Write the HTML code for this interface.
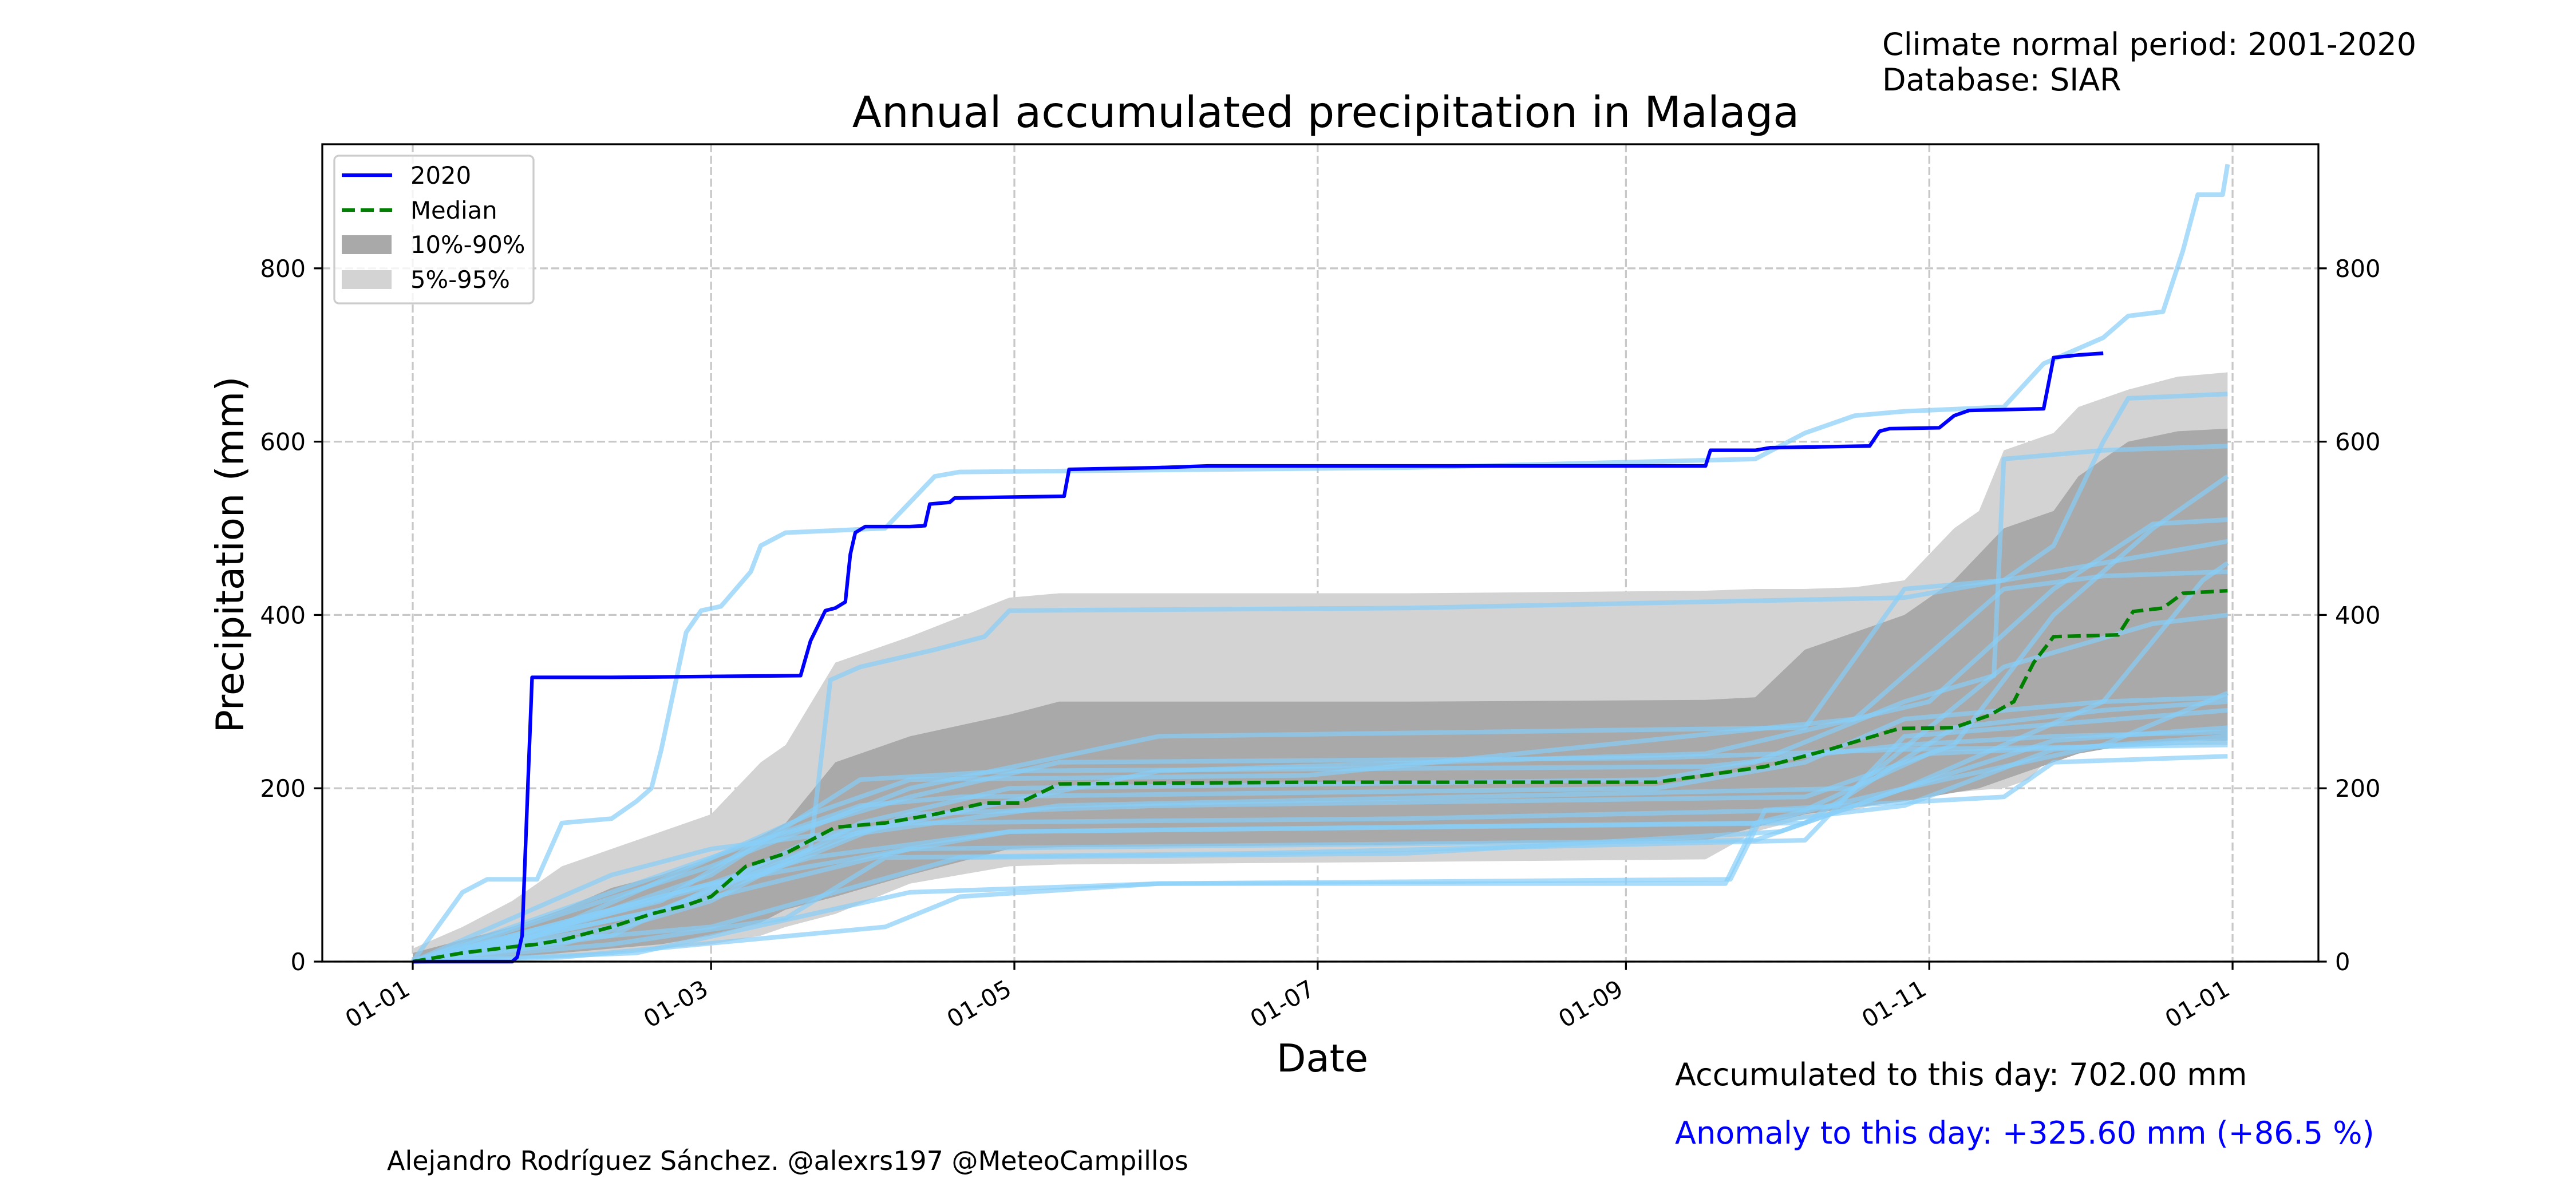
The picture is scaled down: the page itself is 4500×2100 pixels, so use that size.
<!DOCTYPE html>
<html><head><meta charset="utf-8"><style>
html,body{margin:0;padding:0;background:#fff;}
svg{display:block;font-family:"DejaVu Sans","Liberation Sans",sans-serif;}
</style></head><body>
<svg id="chart" width="4500" height="2100" viewBox="0 0 4500 2100" xmlns="http://www.w3.org/2000/svg">
<rect x="0" y="0" width="4500" height="2100" fill="#fff"/>
<text x="3288" y="96" font-size="54">Climate normal period: 2001-2020</text>
<text x="3288" y="158" font-size="54">Database: SIAR</text>
<text x="2316" y="222" font-size="75" text-anchor="middle">Annual accumulated precipitation in Malaga</text>
<text x="0" y="0" font-size="67" text-anchor="middle" transform="translate(425,969) rotate(-90)">Precipitation (mm)</text>
<text x="2310" y="1872" font-size="67" text-anchor="middle">Date</text>
<text x="2926" y="1896" font-size="54">Accumulated to this day: 702.00 mm</text>
<text x="2926" y="1998" font-size="54" fill="#0000ff">Anomaly to this day: +325.60 mm (+86.5 %)</text>
<text x="676" y="2044" font-size="46">Alejandro Rodríguez Sánchez. @alexrs197 @MeteoCampillos</text>
<g id="plot"></g>
</svg>
<script>
// ---- data ----
const xTickLabels = ["01-01","01-03","01-05","01-07","01-09","01-11","01-01"];
const xTickDays = [0,60,121,182,244,305,366];
const yTicks = [0,200,400,600,800];
const year2020Days = [0,20,21,22,23,24,40,78,80,83,85,87,88,89,91,100,103,104,108,109,131,132,150,160,260,261,270,273,293,295,297,307,310,313,328,330,335,340];
const year2020Vals = [0,0,5,30,180,328,328,330,370,405,408,415,470,495,502,502,503,528,530,535,537,568,570,572,572,590,590,593,595,612,615,616,630,636,638,697,700,702];
const medianDays = [0,10,20,25,30,40,48,55,60,67,75,85,95,105,115,122,130,180,250,260,272,285,299,310,317,322,326,330,343,346,352,356,359,365];
const medianVals = [0,10,17,20,25,40,55,65,75,110,125,155,160,170,183,183,205,207,207,215,225,245,269,270,284,300,345,375,377,404,408,425,426,428];
const bandDays = [0,10,20,30,40,50,60,70,75,85,100,120,130,200,260,270,280,290,300,305,310,315,320,325,330,335,345,355,365];
const p95 = [15,40,70,110,130,150,170,230,250,345,375,420,425,425,428,430,430,432,440,470,500,520,590,600,610,640,660,675,680];
const p05 = [0,0,3,5,10,15,20,30,40,55,90,110,112,115,118,150,165,175,190,192,195,198,200,210,240,245,248,250,250];
const p90 = [10,25,40,60,85,100,120,145,160,230,260,285,300,300,302,305,360,380,400,420,440,470,500,510,520,560,600,612,615];
const p10 = [0,0,5,10,15,20,30,45,60,75,100,130,132,135,140,155,170,178,185,190,195,200,210,220,230,240,250,255,255];
const yearsDays = [
 [0,5,10,15,25,30,40,45,48,50,55,58,62,65,68,70,75,95,105,110,200,270,280,290,300,320,328,332,340,345,352,356,359,364,365],
 [0,20,40,60,80,84,90,105,115,120,200,300,320,330,340,345,365],
 [0,30,60,90,120,250,270,300,318,320,340,365],
 [0,40,70,100,150,280,310,330,350,365],
 [0,50,90,150,260,305,330,350,365],
 [0,60,100,150,280,300,320,350,365],
 [0,30,80,120,270,300,340,360,365],
 [0,40,80,130,290,320,350,365],
 [0,50,100,270,300,340,365],
 [0,60,120,280,310,340,365],
 [0,40,75,95,170,280,300,365],
 [0,10,60,110,200,275,300,330,365],
 [0,45,100,150,264,270,300,330,365],
 [0,30,95,110,150,265,272,320,330,365],
 [0,20,60,90,120,260,300,330,365],
 [0,50,70,100,130,250,300,365],
 [0,60,90,110,250,280,300,340,365],
 [0,40,60,100,200,280,305,365],
 [0,25,80,100,180,290,320,340,365]
];
const yearsVals = [
 [0,40,80,95,95,160,165,185,200,245,380,405,410,430,450,480,495,500,560,565,570,580,610,630,635,640,690,700,720,745,750,820,885,885,920],
 [0,30,60,90,130,325,340,360,375,405,408,420,440,480,600,650,655],
 [0,20,70,160,200,210,230,300,330,580,590,595],
 [0,40,100,170,180,190,250,400,500,560],
 [0,60,150,220,240,300,430,505,510],
 [0,110,200,260,270,430,440,470,485],
 [0,40,120,150,160,200,300,440,460],
 [0,30,140,180,200,340,390,400],
 [0,60,130,140,200,250,310],
 [0,90,150,160,270,290,300],
 [0,20,50,120,125,140,260,290],
 [0,15,40,120,125,150,200,255,270],
 [0,10,80,90,90,160,180,245,260],
 [0,5,40,75,90,95,175,190,230,237],
 [0,20,100,210,220,225,250,260,265],
 [0,70,140,190,230,235,245,250],
 [0,120,180,190,200,230,280,300,305],
 [0,100,130,160,165,175,240,255],
 [0,30,170,210,215,280,430,445,450]
];
// ---- geometry ----
const L=563,R=4050,T=252,B=1680,X0=721,PXD=8.686,PXMM=1.514;
const xs=d=>X0+d*PXD, ys=v=>B-v*PXMM;
const NS="http://www.w3.org/2000/svg";
const plot=document.getElementById('plot');
function mk(tag,attrs,parent){const e=document.createElementNS(NS,tag);for(const k in attrs)e.setAttribute(k,attrs[k]);(parent||plot).appendChild(e);return e;}
function pts(days,vals){return days.map((d,i)=>xs(d).toFixed(1)+","+ys(vals[i]).toFixed(1)).join(" ");}
function band(days,up,lo){return "M"+days.map((d,i)=>xs(d)+","+ys(up[i])).join("L")+"L"+days.slice().reverse().map((d,i)=>xs(d)+","+ys(lo[lo.length-1-i])).join("L")+"Z";}
// grid
xTickDays.forEach((d,i)=>{const g=mk('line',{x1:xs(d),x2:xs(d),y1:T,y2:B,stroke:'#b0b0b0','stroke-opacity':0.7,'stroke-width':3.3,'stroke-dasharray':'14,6'});

});
yTicks.forEach(v=>{const g=mk('line',{x1:L,x2:R,y1:ys(v),y2:ys(v),stroke:'#b0b0b0','stroke-opacity':0.7,'stroke-width':3.3,'stroke-dasharray':'14,6'});

});
// bands
const b1=mk('path',{d:band(bandDays,p95,p05),fill:'#d3d3d3'});


const b2=mk('path',{d:band(bandDays,p90,p10),fill:'#a9a9a9'});


// years
yearsDays.forEach((days,i)=>{const p=mk('polyline',{points:pts(days,yearsVals[i]),fill:'none',stroke:'#87cefa','stroke-opacity':0.7,'stroke-width':8,'stroke-linejoin':'round'});

});
// median
const med=mk('polyline',{points:pts(medianDays,medianVals),fill:'none',stroke:'#008000','stroke-width':6.3,'stroke-dasharray':'23,10'});


// 2020
const y20=mk('polyline',{points:pts(year2020Days,year2020Vals),fill:'none',stroke:'#0000ff','stroke-width':6.3,'stroke-linejoin':'round'});


// axes frame
const fr=mk('rect',{x:L,y:T,width:R-L,height:B-T,fill:'none',stroke:'#000','stroke-width':3.3});


// x ticks
xTickDays.forEach((d,i)=>{const t=mk('line',{x1:xs(d),x2:xs(d),y1:B,y2:B+14.6,stroke:'#000','stroke-width':3.3});


const lb=mk('text',{x:0,y:0,'font-size':41.7,'text-anchor':'end',transform:`translate(${xs(d)-2},${B+56}) rotate(-30)`});
lb.textContent=xTickLabels[i];

});
// y ticks
yTicks.forEach(v=>{
const t1=mk('line',{x1:L-14.6,x2:L,y1:ys(v),y2:ys(v),stroke:'#000','stroke-width':3.3});


const t2=mk('line',{x1:R,x2:R+14.6,y1:ys(v),y2:ys(v),stroke:'#000','stroke-width':3.3});


const l1=mk('text',{x:L-29,y:ys(v)+15,'font-size':41.7,'text-anchor':'end'});l1.textContent=v;


const l2=mk('text',{x:R+29,y:ys(v)+15,'font-size':41.7});l2.textContent=v;

});
// legend
const lg=mk('g',{});


mk('rect',{x:584,y:272,width:348,height:258,rx:8,fill:'#fff','fill-opacity':0.8,stroke:'#ccc','stroke-width':3.3},lg);
const entries=[["2020","line","#0000ff"],["Median","dash","#008000"],["10%-90%","box","#a9a9a9"],["5%-95%","box","#d3d3d3"]];
const rowsY=[306,367,427,488];
entries.forEach((e,i)=>{const y=rowsY[i];let h;
if(e[1]==="box")h=mk('rect',{x:597,y:y-16,width:87,height:33,fill:e[2]},lg);
else h=mk('line',{x1:597,x2:685,y1:y,y2:y,stroke:e[2],'stroke-width':6.3,'stroke-dasharray':e[1]==="dash"?'23,10':'none'},lg);


const t=mk('text',{x:717,y:y+15,'font-size':41.7},lg);t.textContent=e[0];

});
</script>
</body></html>
